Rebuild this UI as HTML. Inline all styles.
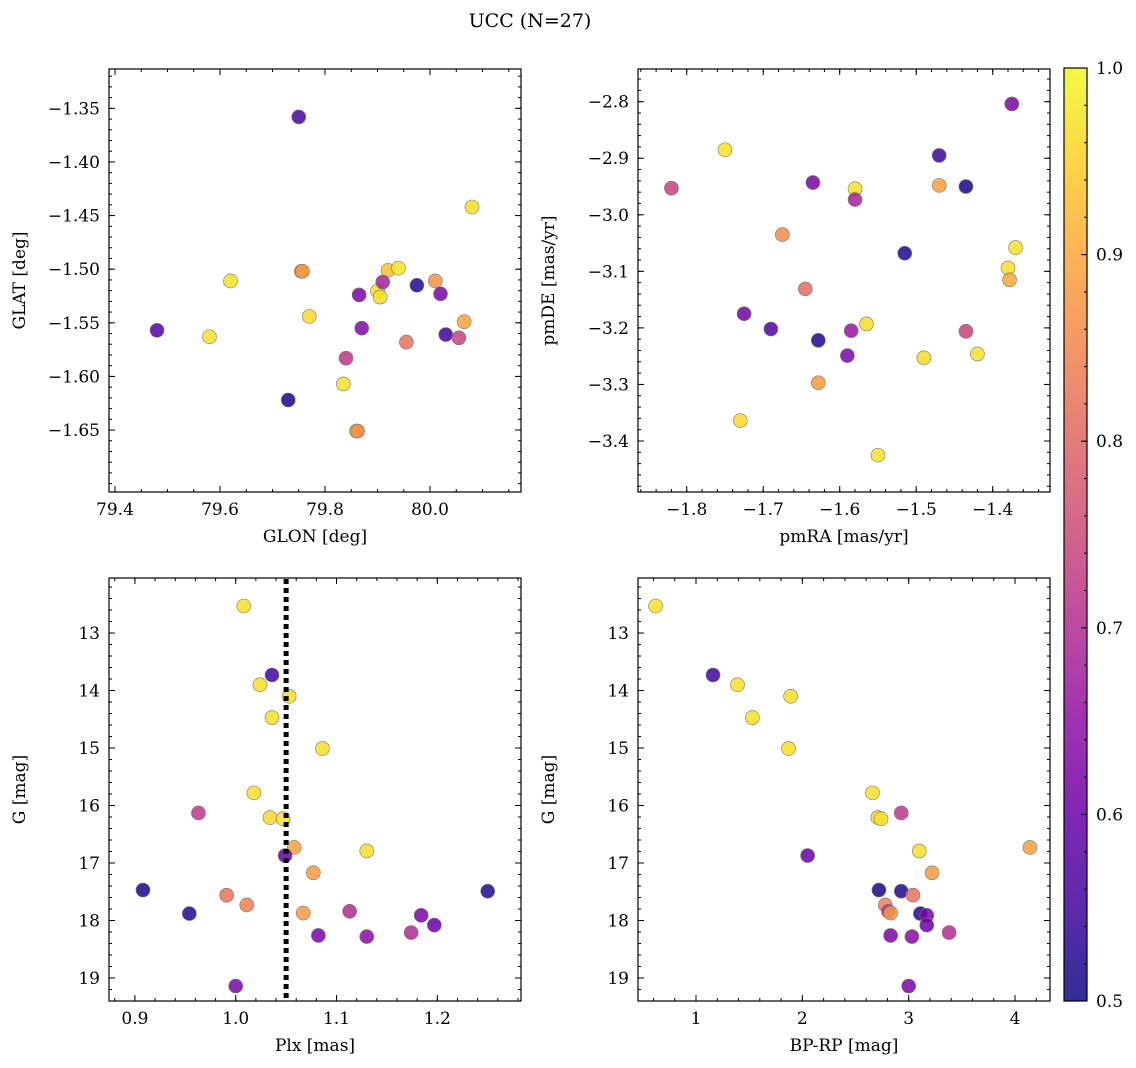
<!DOCTYPE html>
<html><head><meta charset="utf-8">
<style>
html,body{margin:0;padding:0;background:#fff;}
svg{display:block;font-family:"DejaVu Serif","Liberation Serif",serif;}
</style></head>
<body>
<svg id="fig" width="1136" height="1068" viewBox="0 0 1136 1068" xmlns="http://www.w3.org/2000/svg">
<text x="530" y="27" font-size="19" text-anchor="middle">UCC (N=27)</text>
</svg>
<script>
// ---- data ----
const tlGlon = [79.75,80.08,79.755,79.757,79.62,79.92,79.94,79.90,79.905,79.91,79.865,79.975,80.01,80.02,80.065,79.77,79.48,79.58,79.87,79.955,80.03,80.055,79.84,79.835,79.73,79.86,79.862];
const tlGlat = [-1.358,-1.442,-1.502,-1.502,-1.511,-1.501,-1.499,-1.520,-1.526,-1.512,-1.524,-1.515,-1.511,-1.523,-1.549,-1.544,-1.557,-1.563,-1.555,-1.568,-1.561,-1.564,-1.583,-1.607,-1.622,-1.651,-1.651];
const tlProb = [0.56,0.97,0.86,0.88,0.97,0.93,0.97,0.96,0.97,0.68,0.62,0.52,0.87,0.62,0.89,0.96,0.57,0.97,0.63,0.82,0.55,0.74,0.72,0.97,0.51,0.97,0.85];
const trPmra = [-1.375,-1.75,-1.47,-1.82,-1.635,-1.58,-1.47,-1.435,-1.58,-1.675,-1.37,-1.515,-1.38,-1.378,-1.645,-1.725,-1.69,-1.585,-1.435,-1.565,-1.628,-1.59,-1.42,-1.49,-1.628,-1.73,-1.55];
const trPmde = [-2.804,-2.885,-2.895,-2.953,-2.943,-2.954,-2.948,-2.950,-2.973,-3.035,-3.058,-3.068,-3.094,-3.115,-3.131,-3.175,-3.202,-3.205,-3.206,-3.193,-3.222,-3.249,-3.246,-3.253,-3.297,-3.364,-3.425];
const trProb = [0.62,0.97,0.54,0.74,0.62,0.97,0.89,0.51,0.68,0.86,0.97,0.52,0.97,0.9,0.81,0.61,0.57,0.66,0.74,0.97,0.52,0.62,0.97,0.96,0.88,0.96,0.97];
const gMag = [12.53,13.73,13.90,14.10,14.47,15.01,15.78,16.13,16.21,16.23,16.73,16.79,16.87,17.17,17.47,17.49,17.56,17.73,17.84,17.87,17.88,17.91,18.08,18.21,18.26,18.28,19.14];
const plx = [1.008,1.036,1.024,1.053,1.036,1.086,1.018,0.963,1.034,1.047,1.058,1.130,1.049,1.077,0.908,1.250,0.991,1.011,1.113,1.067,0.954,1.184,1.197,1.174,1.082,1.130,1.000];
const bprp = [0.62,1.16,1.39,1.89,1.53,1.87,2.66,2.93,2.71,2.74,4.14,3.10,2.05,3.22,2.72,2.93,3.04,2.78,2.81,2.83,3.11,3.17,3.17,3.38,2.83,3.03,3.00];
const gProb = [0.97,0.55,0.97,0.97,0.97,0.97,0.97,0.72,0.96,0.97,0.89,0.97,0.6,0.88,0.51,0.52,0.82,0.84,0.7,0.88,0.52,0.62,0.6,0.7,0.62,0.64,0.62];
const plxLine = 1.05;
const cbTicks = [0.5,0.6,0.7,0.8,0.9,1.0];

const NS="http://www.w3.org/2000/svg";
const svg=document.getElementById('fig');
function mk(tag,attrs,parent){const e=document.createElementNS(NS,tag);for(const k in attrs)e.setAttribute(k,attrs[k]);(parent||svg).appendChild(e);return e;}
const stops=[[13,8,135],[65,4,157],[106,0,168],[143,13,164],[177,42,144],[204,71,120],[225,100,98],[242,132,75],[252,166,54],[252,206,37],[240,249,33]];
function plasma(t){t=Math.max(0,Math.min(1,t));const f=t*10,i=Math.min(9,Math.floor(f)),r=f-i;const a=stops[i],b=stops[i+1];return `rgb(${a.map((v,k)=>Math.round(v+(b[k]-v)*r)).join(',')})`;}
function pcol(p){return plasma((p-0.5)/0.5);}
const neg=s=>s.replace('-','\u2212');

function axes(name,box,xd,yd,xt,yt,xmin,ymin,xfmt,yfmt,xlabel,ylabel,invY){
  const [L,T,R,B]=box;
  const g=mk('g',{});
  
  
  const sx=v=>L+(v-xd[0])/(xd[1]-xd[0])*(R-L);
  const sy=invY?(v=>T+(v-yd[0])/(yd[1]-yd[0])*(B-T)):(v=>B-(v-yd[0])/(yd[1]-yd[0])*(B-T));
  const tick=(x1,y1,x2,y2)=>mk('line',{x1,y1,x2,y2,stroke:'#000','stroke-width':1},g);
  const [x0,x1,xs]=xt, [y0,y1,ys]=yt;
  for(let v=Math.ceil(xd[0]/xmin-1e-6)*xmin;v<=xd[1];v+=xmin){const x=sx(v);tick(x,B,x,B-3);tick(x,T,x,T+3);}
  for(let v=Math.ceil(yd[0]/ymin-1e-6)*ymin;v<=yd[1];v+=ymin){const y=sy(v);tick(L,y,L+3,y);tick(R,y,R-3,y);}
  for(let v=x0;v<=x1+1e-9;v+=xs){const x=sx(v);tick(x,B,x,B-6);tick(x,T,x,T+6);
    const t=mk('text',{x,y:B+23,'font-size':17,'text-anchor':'middle'},g);t.textContent=neg(xfmt(v));
    }
  for(let v=y0;v<=y1+1e-9;v+=ys){const y=sy(v);tick(L,y,L+6,y);tick(R,y,R-6,y);
    const t=mk('text',{x:L-9,y:y+6,'font-size':17,'text-anchor':'end'},g);t.textContent=neg(yfmt(v));
    }
  mk('rect',{x:L,y:T,width:R-L,height:B-T,fill:'none',stroke:'#000','stroke-width':1.2},g);
  const xl=mk('text',{x:(L+R)/2,y:B+50,'font-size':17,'text-anchor':'middle'},g);xl.textContent=xlabel;
  
  const yl=mk('text',{x:0,y:0,'font-size':17,'text-anchor':'middle',transform:`translate(${L-84},${(T+B)/2}) rotate(-90)`},g);yl.textContent=ylabel;
  
  return {g,sx,sy};
}
function scatter(ax,xs,ys,ps,name){
  xs.forEach((v,i)=>{const c=mk('circle',{cx:ax.sx(v),cy:ax.sy(ys[i]),r:7,fill:pcol(ps[i]),'fill-opacity':0.85,stroke:'#777','stroke-width':0.6},ax.g);
    });
}
const f2=v=>v.toFixed(2), f1=v=>v.toFixed(1), f0=v=>v.toFixed(0);
const a1=axes('glon-glat-panel',[109,69,521,492],[79.3886,80.1733],[-1.7078,-1.3133],[79.4,80.0,0.2],[-1.65,-1.35,0.05],0.05,0.01,f1,f2,'GLON [deg]','GLAT [deg]',false);
scatter(a1,tlGlon,tlGlat,tlProb,'star-point');
const a2=axes('pm-panel',[638,69,1050,492],[-1.8637,-1.3251],[-3.4902,-2.7422],[-1.8,-1.4,0.1],[-3.4,-2.8,0.1],0.02,0.02,f1,f1,'pmRA [mas/yr]','pmDE [mas/yr]',false);
scatter(a2,trPmra,trPmde,trProb,'star-point');
const a3=axes('plx-g-panel',[109,578,521,1001],[0.8743,1.283],[12.043,19.4],[0.9,1.2,0.1],[13,19,1],0.02,0.2,f1,f0,'Plx [mas]','G [mag]',true);
scatter(a3,plx,gMag,gProb,'star-point');
const pl=mk('line',{x1:a3.sx(plxLine),x2:a3.sx(plxLine),y1:579,y2:1000,stroke:'#000','stroke-width':5,'stroke-dasharray':'5,4'},a3.g);

const a4=axes('cmd-panel',[638,578,1050,1001],[0.4545,4.329],[12.043,19.4],[1,4,1],[13,19,1],0.2,0.2,f0,f0,'BP-RP [mag]','G [mag]',true);
scatter(a4,bprp,gMag,gProb,'star-point');

// colorbar
const cb=mk('g',{});


const defs=mk('defs',{},cb);const lg=mk('linearGradient',{id:'cbg',x1:0,y1:1,x2:0,y2:0},defs);
for(let i=0;i<=10;i++)mk('stop',{offset:i/10,'stop-color':plasma(i/10),'stop-opacity':0.85},lg);
const CT=68,CB=1001,CL=1064,CR=1087;
mk('rect',{x:CL,y:CT,width:CR-CL,height:CB-CT,fill:'url(#cbg)',stroke:'#000','stroke-width':1.2},cb);
const cy=v=>CB-(v-0.5)/0.5*(CB-CT);
for(let v=0.5;v<=1.0001;v+=0.02){mk('line',{x1:CR,x2:CR-3,y1:cy(v),y2:cy(v),stroke:'#000'},cb);}
cbTicks.forEach(v=>{mk('line',{x1:CR,x2:CR-6,y1:cy(v),y2:cy(v),stroke:'#000'},cb);
  const t=mk('text',{x:CR+9,y:cy(v)+6,'font-size':17},cb);t.textContent=v.toFixed(1);
  });
</script>
</body></html>
